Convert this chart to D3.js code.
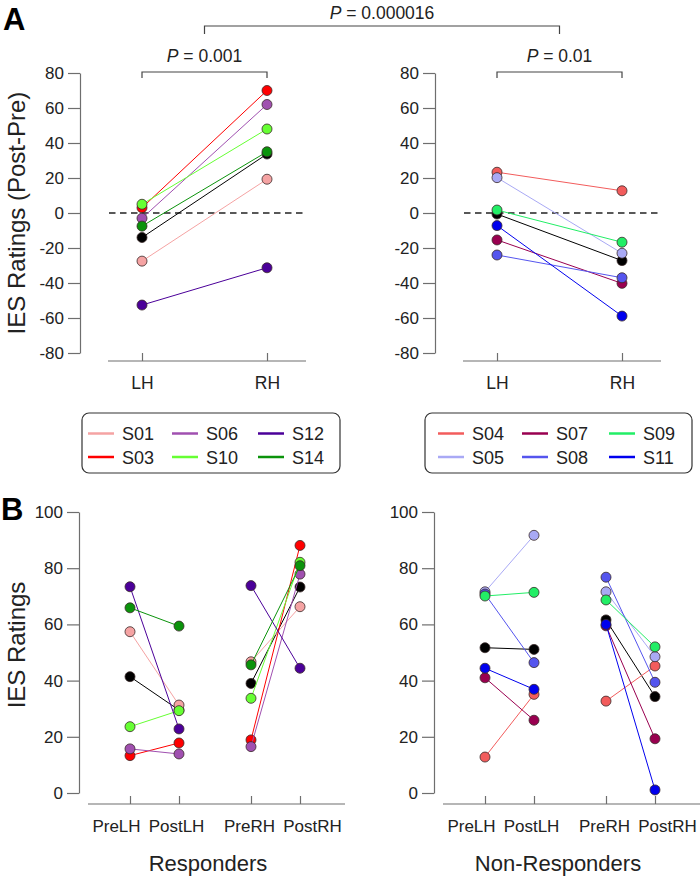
<!DOCTYPE html>
<html><head><meta charset="utf-8">
<script src="https://cdn.jsdelivr.net/npm/d3@7"></script>
<style>
body{margin:0;background:#fff;}
svg{display:block;font-family:"Liberation Sans",Arial,Helvetica,sans-serif;}
</style>
</head><body>
<svg id="chart" width="700" height="877"></svg>
<script>
// ---------- DATA ----------
const respSubjects = ["S01","S03","S06","S10","S12","S14"];
const respColors   = ["#f5a3a3","#ff0000","#a050b0","#66ff33","#4b0099","#0b930b"];
const nonSubjects  = ["S04","S05","S07","S08","S09","S11"];
const nonColors    = ["#f25c5c","#a9a9f5","#990050","#5555ee","#22ee66","#0000ee"];
const meanColor = "#000000";

const hemis = ["LH","RH"];
const sessions = ["PreLH","PostLH","PreRH","PostRH"];
const yTicksA = [-80,-60,-40,-20,0,20,40,60,80];
const yTicksB = [0,20,40,60,80,100];

// Panel A: change (Post - Pre)
const respDiffLH = [-27.5, 3, -3, 5, -52.6, -7.5];
const respDiffRH = [19.3, 70, 62, 48, -31.3, 35];
const respMeanDiff = [-14, 33.7];
const nonDiffLH = [23.3, 20.2, -15.4, -24, 1.7, -7.2];
const nonDiffRH = [12.7, -23, -40.2, -37, -16.7, -58.9];
const nonMeanDiff = [-0.6, -27.2];

// Panel B: raw ratings
const respPreLH  = [57.4, 13.3, 15.7, 23.6, 73.4, 65.9];
const respPostLH = [31.3, 17.8, 13.9, 29.3, 22.8, 59.4];
const respPreRH  = [46.7, 18.9, 16.5, 33.7, 73.8, 45.6];
const respPostRH = [66.3, 88.1, 77.9, 82.1, 44.4, 80.9];
const respMean   = [41.4, 29.5, 39, 73.3];
const nonPreLH  = [12.8, 71.6, 41, 70.8, 70.1, 44.4];
const nonPostLH = [35.1, 91.7, 25.9, 46.4, 71.4, 36.9];
const nonPreRH  = [32.7, 71.6, 59.5, 76.8, 68.7, 60];
const nonPostRH = [45.2, 48.5, 19.3, 39.4, 52, 1.1];
const nonMean   = [51.7, 51.1, 61.6, 34.3];

const pLeft = "0.001", pRight = "0.01", pTop = "0.000016";
const groupLabels = ["Responders","Non-Responders"];

// ---------- DRAW ----------
const svg = d3.select("#chart");
const textCol = "#222", axisCol = "#6e6e6e";
const R = 5;

function styleAxis(sel, fs){
  sel.selectAll("path.domain").attr("stroke", axisCol).attr("stroke-width",1.2);
  sel.selectAll(".tick line").attr("stroke", axisCol).attr("stroke-width",1.2);
  sel.selectAll(".tick text").attr("fill", textCol).style("font-size", fs+"px").style("font-family","'Liberation Sans',Arial,sans-serif");
}

function drawPair(g, x, y, k1, k2, v1, v2, color){
  g.append("line")
    .attr("x1", x(k1)).attr("y1", y(v1))
    .attr("x2", x(k2)).attr("y2", y(v2))
    .attr("stroke", color).attr("stroke-width", 1);
}
function drawPt(g, x, y, k, v, color){
  g.append("circle").attr("cx", x(k)).attr("cy", y(v)).attr("r", R)
    .attr("fill", color).attr("stroke", "#3a2a2a").attr("stroke-width", 0.8);
}

function pText(g, cx, by, val){
  const t = g.append("text").attr("x", cx).attr("y", by).attr("text-anchor","middle")
    .attr("fill", textCol).style("font-size","17.5px");
  t.append("tspan").style("font-style","italic").text("P");
  t.append("tspan").text(" = " + val);
}

function panelA(axisX, subjects, colors, lh, rh, meanVals, pval){
  const g = svg.append("g");
  const y = d3.scaleLinear().domain([-80,80]).range([353,73]);
  const x = d3.scaleOrdinal().domain(hemis).range([axisX+62, axisX+187]);
  const ya = g.append("g").attr("transform",`translate(${axisX},0)`)
    .call(d3.axisLeft(y).tickValues(yTicksA).tickSize(12).tickPadding(4).tickSizeOuter(0).tickFormat(d=>String(d)));
  styleAxis(ya, 17);
  g.append("line").attr("x1", axisX+28).attr("x2", axisX+226).attr("y1",361).attr("y2",361)
    .attr("stroke", axisCol).attr("stroke-width",1.2);
  const xa = g.append("g").attr("transform","translate(0,361)")
    .call(d3.axisBottom(x).tickSize(-8).tickPadding(16));
  xa.select("path.domain").remove();
  styleAxis(xa, 17.5);
  g.append("line").attr("x1", axisX+29).attr("x2", axisX+226).attr("y1", y(0)).attr("y2", y(0))
    .attr("stroke","#222").attr("stroke-width",1.3).attr("stroke-dasharray","6.5,4.5");
  drawPair(g, x, y, "LH","RH", meanVals[0], meanVals[1], meanColor);
  drawPt(g, x, y, "LH", meanVals[0], meanColor);
  drawPt(g, x, y, "RH", meanVals[1], meanColor);
  subjects.forEach((s,i)=>{
    drawPair(g, x, y, "LH","RH", lh[i], rh[i], colors[i]);
    drawPt(g, x, y, "LH", lh[i], colors[i]);
    drawPt(g, x, y, "RH", rh[i], colors[i]);
  });
  const x1 = x("LH"), x2 = x("RH");
  g.append("path").attr("d", `M${x1},78V72H${x2}V78`).attr("fill","none").attr("stroke","#444").attr("stroke-width",1.2);
  pText(g, (x1+x2)/2, 62, pval);
  return (x1+x2)/2;
}

function legend(bx, w, subjects, colors, offs){
  const g = svg.append("g");
  g.append("rect").attr("x", bx).attr("y", 413).attr("width", w).attr("height", 60)
    .attr("rx", 7).attr("fill","none").attr("stroke","#333").attr("stroke-width",1.2);
  subjects.forEach((s,i)=>{
    const col = Math.floor(i/2), row = i % 2;
    const tx = bx + offs[col], cy = 433.5 + row*23.5;
    g.append("line").attr("x1", tx-34).attr("x2", tx-8).attr("y1", cy).attr("y2", cy)
      .attr("stroke", colors[i]).attr("stroke-width", 2.5);
    g.append("text").attr("x", tx).attr("y", cy+6.5).attr("fill", textCol)
      .style("font-size","18px").text(s);
  });
}

const labelShift = [-14, -3, -2, 12];

function panelB(axisX, subjects, colors, pre1, post1, pre2, post2, meanVals, label, labelOff){
  const g = svg.append("g");
  const y = d3.scaleLinear().domain([0,100]).range([793,512]);
  const x = d3.scaleOrdinal().domain(sessions).range([axisX+51, axisX+100, axisX+172, axisX+221]);
  const ya = g.append("g").attr("transform",`translate(${axisX},0)`)
    .call(d3.axisLeft(y).tickValues(yTicksB).tickSize(12).tickPadding(4).tickSizeOuter(0).tickFormat(d=>String(d)));
  styleAxis(ya, 17);
  g.append("line").attr("x1", axisX+9).attr("x2", axisX+266).attr("y1",804).attr("y2",804)
    .attr("stroke", axisCol).attr("stroke-width",1.2);
  const xa = g.append("g").attr("transform","translate(0,804)")
    .call(d3.axisBottom(x).tickSize(-8).tickPadding(16));
  xa.select("path.domain").remove();
  styleAxis(xa, 17);
  xa.selectAll(".tick text").attr("dx", (d,i)=>labelShift[i]);
  const all = [[meanColor, meanVals[0], meanVals[1], meanVals[2], meanVals[3]]]
    .concat(subjects.map((s,i)=>[colors[i], pre1[i], post1[i], pre2[i], post2[i]]));
  all.forEach(a=>{
    const c = a[0];
    drawPair(g, x, y, "PreLH","PostLH", a[1], a[2], c);
    drawPair(g, x, y, "PreRH","PostRH", a[3], a[4], c);
    drawPt(g, x, y, "PreLH", a[1], c);
    drawPt(g, x, y, "PostLH", a[2], c);
    drawPt(g, x, y, "PreRH", a[3], c);
    drawPt(g, x, y, "PostRH", a[4], c);
  });
  g.append("text").attr("x", axisX + labelOff).attr("y", 871).attr("text-anchor","middle")
    .attr("fill", textCol).style("font-size","22px").text(label);
}

// Panel A
const cL = panelA(80, respSubjects, respColors, respDiffLH, respDiffRH, respMeanDiff, pLeft);
const cR = panelA(435, nonSubjects, nonColors, nonDiffLH, nonDiffRH, nonMeanDiff, pRight);
svg.append("path").attr("d", `M${cL},34V26H${cR}V34`).attr("fill","none").attr("stroke","#444").attr("stroke-width",1.2);
pText(svg, (cL+cR)/2, 19, pTop);

svg.append("text").attr("transform","translate(25,213) rotate(-90)").attr("text-anchor","middle")
  .attr("fill", textCol).style("font-size","24px").text("IES Ratings (Post-Pre)");
svg.append("text").attr("x",3).attr("y",30).attr("fill","#000").style("font-size","31px").style("font-weight","bold").text("A");

// Legends
legend(82, 258, respSubjects, respColors, [40,124,210]);
legend(425, 267, nonSubjects, nonColors, [47,131,218]);

// Panel B
panelB(79, respSubjects, respColors, respPreLH, respPostLH, respPreRH, respPostRH, respMean, groupLabels[0], 129);
panelB(434, nonSubjects, nonColors, nonPreLH, nonPostLH, nonPreRH, nonPostRH, nonMean, groupLabels[1], 124);
svg.append("text").attr("transform","translate(25,645) rotate(-90)").attr("text-anchor","middle")
  .attr("fill", textCol).style("font-size","24px").text("IES Ratings");
svg.append("text").attr("x",1).attr("y",520).attr("fill","#000").style("font-size","31px").style("font-weight","bold").text("B");
</script>
</body></html>
